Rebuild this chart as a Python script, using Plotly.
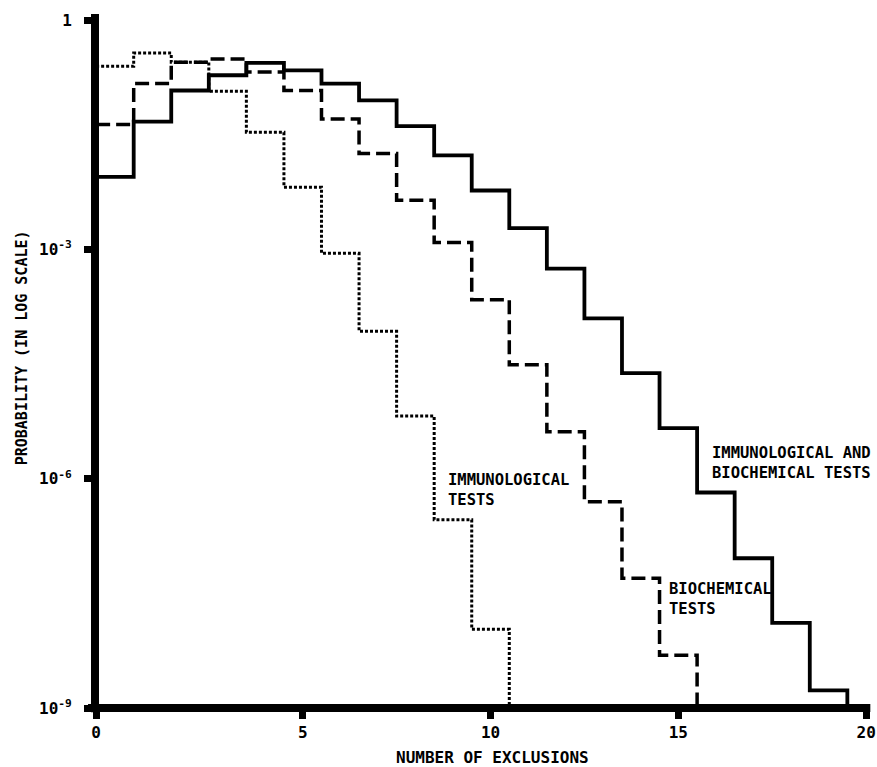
import plotly.graph_objects as go

# Number of exclusions (bin centres)
exclusions_combined = list(range(20))
exclusions_biochem = list(range(16))
exclusions_immuno = list(range(11))

# Probabilities (log scale)
prob_combined = [8.9e-3, 4.7e-2, 0.12, 0.19, 0.275, 0.22, 0.148, 0.089, 0.041, 0.017,
                 5.9e-3, 1.9e-3, 5.6e-4, 1.25e-4, 2.4e-5, 4.6e-6, 6.6e-7, 9.1e-8, 1.3e-8, 1.7e-9]
prob_biochem = [0.043, 0.148, 0.28, 0.31, 0.21, 0.12, 0.051, 0.018, 4.4e-3, 1.23e-3,
                2.2e-4, 3.1e-5, 4.1e-6, 5.0e-7, 5.0e-8, 4.9e-9]
prob_immuno = [0.25, 0.37, 0.28, 0.117, 0.034, 6.5e-3, 8.9e-4, 8.5e-5, 6.6e-6, 2.9e-7, 1.07e-8]

x_tickvals = [-0.5, 5, 10, 15, 20]
x_ticktext = ["0", "5", "10", "15", "20"]
y_tickvals = [1, 1e-3, 1e-6, 1e-9]
y_ticktext = ["1", "10<sup>-3</sup>", "10<sup>-6</sup>", "10<sup>-9</sup>"]

FONT = "DejaVu Sans Mono"
WEIGHT = 600


def step_xy(xs, ys):
    # left bin edges plus the closing edge, dropping to below the axis
    ex = [x - 0.5 for x in xs] + [xs[-1] + 0.5]
    ey = list(ys) + [1e-12]
    return ex, ey


fig = go.Figure()

x, y = step_xy(exclusions_immuno, prob_immuno)
fig.add_trace(go.Scatter(x=x, y=y, mode="lines", line_shape="hv",
                         line=dict(color="black", width=3, dash="3px,2px"),
                         name="Immunological tests"))
x, y = step_xy(exclusions_biochem, prob_biochem)
fig.add_trace(go.Scatter(x=x, y=y, mode="lines", line_shape="hv",
                         line=dict(color="black", width=3.5, dash="14px,6px"),
                         name="Biochemical tests"))
x, y = step_xy(exclusions_combined, prob_combined)
fig.add_trace(go.Scatter(x=x, y=y, mode="lines", line_shape="hv",
                         line=dict(color="black", width=3.8),
                         name="Immunological and biochemical tests"))

# thick axis lines
fig.add_shape(type="line", xref="paper", yref="paper", x0=-0.009, x1=1.003, y0=0, y1=0,
              line=dict(color="black", width=8))
fig.add_shape(type="line", xref="paper", yref="paper", x0=0, x1=0, y0=-0.006, y1=1,
              line=dict(color="black", width=8))

ann_font = dict(family=FONT, size=15.5, color="black", weight=WEIGHT)
fig.add_annotation(x=8.82, y=-6.15, xref="x", yref="y", text="IMMUNOLOGICAL<br>TESTS",
                   showarrow=False, xanchor="left", yanchor="middle", align="left", font=ann_font)
fig.add_annotation(x=14.71, y=-7.57, xref="x", yref="y", text="BIOCHEMICAL<br>TESTS",
                   showarrow=False, xanchor="left", yanchor="middle", align="left", font=ann_font)
fig.add_annotation(x=15.85, y=-5.80, xref="x", yref="y", text="IMMUNOLOGICAL AND<br>BIOCHEMICAL TESTS",
                   showarrow=False, xanchor="left", yanchor="middle", align="left", font=ann_font)

# axis titles
fig.add_annotation(x=-0.0951, y=0.519, xref="paper", yref="paper", text="PROBABILITY (IN LOG SCALE)",
                   textangle=-90, showarrow=False, xanchor="center", yanchor="middle",
                   font=dict(family=FONT, size=15, color="black", weight=WEIGHT))
fig.add_annotation(x=0.514, y=-0.072, xref="paper", yref="paper", text="NUMBER OF EXCLUSIONS",
                   showarrow=False, xanchor="center", yanchor="middle",
                   font=dict(family=FONT, size=16, color="black", weight=WEIGHT))

fig.update_layout(
    width=877, height=767,
    margin=dict(l=95, r=1, t=14, b=59),
    paper_bgcolor="white", plot_bgcolor="white",
    showlegend=False,
    font=dict(family=FONT, size=15, color="black"),
    xaxis=dict(range=[-0.53, 20.05], showgrid=False, zeroline=False, showline=False,
               tickmode="array", tickvals=x_tickvals, ticktext=x_ticktext,
               ticks="outside", ticklen=10, tickwidth=7, tickcolor="black",
               ticklabeloverflow="allow",
               tickfont=dict(family=FONT, size=16, color="black", weight=WEIGHT)),
    yaxis=dict(type="log", range=[-9, 0.08], showgrid=False, zeroline=False, showline=False,
               tickmode="array", tickvals=y_tickvals, ticktext=y_ticktext,
               ticks="outside", ticklen=10, tickwidth=7, tickcolor="black",
               ticklabelstandoff=9,
               tickfont=dict(family=FONT, size=16, color="black", weight=WEIGHT)),
)

fig.write_html("out.html", config={"displayModeBar": False},
               post_script="document.body.style.margin='0';document.body.style.overflow='hidden';")
